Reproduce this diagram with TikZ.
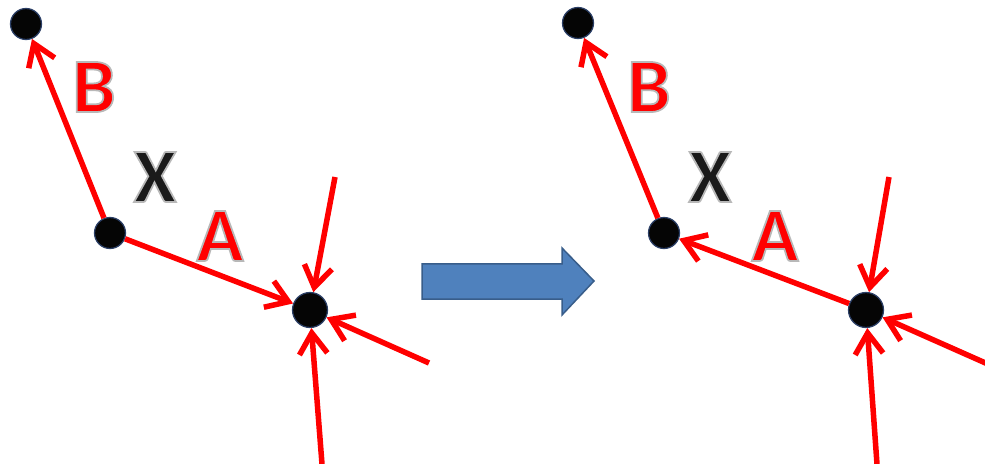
\documentclass[tikz,border=0pt]{standalone}
\usepackage{fontspec}
\setmainfont{Carlito}
\usetikzlibrary{arrows.meta}
\definecolor{flowC}{HTML}{FF0000}
\definecolor{dotC}{HTML}{050505}
\definecolor{rimC}{HTML}{2B3F66}
\definecolor{stepC}{HTML}{4F81BD}
\definecolor{stepRim}{HTML}{385D8A}
\definecolor{xC}{HTML}{1A1A1A}
\tikzset{
  >={Straight Barb[length=4.2mm,width=5.6mm]},
  flow/.style={->,draw=flowC,line width=1.1mm},
  dot/.style={circle,fill=dotC,draw=rimC,line width=0.25mm,minimum size=6.2mm,inner sep=0pt},
  sink/.style={dot,minimum size=7mm},
  lbl/.style={font=\fontsize{44}{48}\selectfont\bfseries,inner sep=0pt},
}
% letters filled and then stroked with a thin grey rim
\newcommand{\rimtext}[2]{\textcolor{#1}{\special{pdf:literal direct 2 Tr 1 w 0.72 0.72 0.72 RG}#2\special{pdf:literal direct 0 Tr}}}

\begin{document}
\begin{tikzpicture}[x=0.2mm,y=-0.2mm]
\useasboundingbox (0,0) rectangle (985,464);

% ---------- before ----------
\node[dot] (Lb) at (26,24) {};
\node[dot] (Lx) at (110,233) {};
\node[sink] (Ls) at (310,310) {};
\coordinate (Lin1) at (335,177);
\coordinate (Lin2) at (429,363);
\coordinate (Lin3) at (322,464);
\draw[flow] (Lx) -- (Lb);
\draw[flow] (Lx) -- (Ls);
\draw[flow] (Lin1) -- (Ls);
\draw[flow] (Lin2) -- (Ls);
\draw[flow] (Lin3) -- (Ls);
\node[lbl] (LlabB) at (94,87) {\rimtext{flowC}{B}};
\node[lbl] (LlabX) at (155,177) {\rimtext{xC}{X}};
\node[lbl] (LlabA) at (220,236) {\rimtext{flowC}{A}};

% ---------- step arrow ----------
\filldraw[fill=stepC,draw=stepRim,line width=0.3mm]
  (422,264) -- (562,264) -- (562,248) -- (594,281) -- (562,315)
  -- (562,299) -- (422,299) -- cycle;

% ---------- after ----------
\node[dot] (Rb) at (578,23) {};
\node[dot] (Rx) at (664,233) {};
\node[sink] (Rs) at (866,310) {};
\coordinate (Rin1) at (889,177);
\coordinate (Rin2) at (990,365);
\coordinate (Rin3) at (877,464);
\draw[flow] (Rx) -- (Rb);
\draw[flow] (Rs) -- (Rx);
\draw[flow] (Rin1) -- (Rs);
\draw[flow] (Rin2) -- (Rs);
\draw[flow] (Rin3) -- (Rs);
\node[lbl] (RlabB) at (649,87) {\rimtext{flowC}{B}};
\node[lbl] (RlabX) at (710,177) {\rimtext{xC}{X}};
\node[lbl] (RlabA) at (775,236) {\rimtext{flowC}{A}};

\end{tikzpicture}
\end{document}
